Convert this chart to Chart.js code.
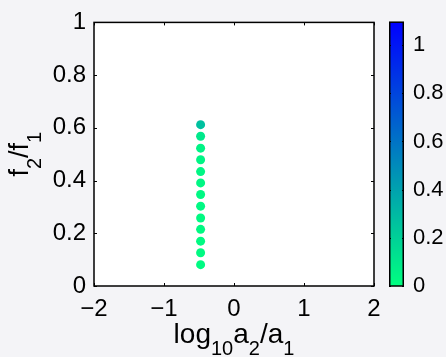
<!DOCTYPE html>
<html lang="en">
<head>
    <meta charset="UTF-8">
    <title>f2/f1 vs log10 a2/a1</title>
    <script src="https://cdn.jsdelivr.net/npm/chart.js"></script>
    <style>
        body { margin: 0; background-color: #f4f4f7; }
        #wrap { position: relative; width: 446px; height: 357px; }
        #mainChart { position: absolute; left: 0; top: 0; }
        #cbChart { position: absolute; left: 389px; top: 0; }
    </style>
</head>
<body>
    <div id="wrap">
        <canvas id="mainChart" width="446" height="357"></canvas>
        <canvas id="cbChart" width="57" height="357"></canvas>
    </div>

    <script>
        // data
        const xVals = [-0.477, -0.477, -0.477, -0.477, -0.477, -0.477, -0.477, -0.477, -0.477, -0.477, -0.477, -0.477, -0.477];
        const yVals = [0.612, 0.568, 0.523, 0.479, 0.434, 0.391, 0.347, 0.303, 0.258, 0.215, 0.170, 0.126, 0.081];
        const cVals = [0.27, 0.10, 0.05, 0.045, 0.04, 0.035, 0.03, 0.03, 0.025, 0.025, 0.02, 0.02, 0.02];
        const xTicks = [-2, -1, 0, 1, 2];
        const yTicks = [0, 0.2, 0.4, 0.6, 0.8, 1];
        const cbTicks = [0, 0.2, 0.4, 0.6, 0.8, 1];
        const cMax = 1.095;

        const FONT = '"Liberation Sans", Arial, sans-serif';

        // flipped "winter" colormap: green at 0, blue at top
        function cmap(v) {
            const f = Math.max(0, Math.min(1, v / cMax));
            return `rgb(0, ${Math.round(255 * (1 - f))}, ${Math.round(127.5 + 127.5 * f)})`;
        }

        // text with subscripts, centred on (0,0) baseline
        function richText(ctx, parts, size, subSize, subDrop) {
            let w = 0;
            parts.forEach(p => {
                ctx.font = `${p.sub ? subSize : size}px ${FONT}`;
                p.w = ctx.measureText(p.t).width;
                w += p.w;
            });
            let x = -w / 2;
            ctx.textAlign = 'left';
            ctx.textBaseline = 'alphabetic';
            parts.forEach(p => {
                ctx.font = `${p.sub ? subSize : size}px ${FONT}`;
                ctx.fillText(p.t, x, p.sub ? subDrop : 0);
                x += p.w;
            });
        }

        const matlabAxes = {
            id: 'matlabAxes',
            beforeDraw(chart) {
                const { ctx, chartArea: a } = chart;
                ctx.save();
                ctx.fillStyle = '#ffffff';
                ctx.fillRect(a.left, a.top, a.right - a.left, a.bottom - a.top);
                ctx.restore();
            },
            afterDraw(chart) {
                const { ctx, chartArea: a, scales } = chart;
                ctx.save();
                ctx.strokeStyle = '#000';
                ctx.lineWidth = 1;
                xTicks.forEach(v => {
                    const px = Math.round(scales.x.getPixelForValue(v)) + 0.5;
                    ctx.beginPath();
                    ctx.moveTo(px, a.bottom); ctx.lineTo(px, a.bottom - 3);
                    ctx.moveTo(px, a.top); ctx.lineTo(px, a.top + 3);
                    ctx.stroke();
                });
                yTicks.forEach(v => {
                    const py = Math.round(scales.y.getPixelForValue(v)) + 0.5;
                    ctx.beginPath();
                    ctx.moveTo(a.left, py); ctx.lineTo(a.left + 3, py);
                    ctx.moveTo(a.right, py); ctx.lineTo(a.right - 3, py);
                    ctx.stroke();
                });
                ctx.lineWidth = 1.5;
                ctx.strokeRect(a.left, a.top, a.right - a.left, a.bottom - a.top);

                ctx.fillStyle = '#000';
                // x title
                ctx.save();
                ctx.translate((a.left + a.right) / 2, 343);
                richText(ctx, [{ t: 'log' }, { t: '10', sub: true }, { t: 'a' }, { t: '2', sub: true }, { t: '/a' }, { t: '1', sub: true }], 28, 20, 12);
                ctx.restore();
                // y title
                ctx.save();
                ctx.translate(28, (a.top + a.bottom) / 2);
                ctx.rotate(-Math.PI / 2);
                richText(ctx, [{ t: 'f' }, { t: '2', sub: true }, { t: '/f' }, { t: '1', sub: true }], 27, 20, 13);
                ctx.restore();
                ctx.restore();
            }
        };

        new Chart(document.getElementById('mainChart'), {
            type: 'scatter',
            data: {
                datasets: [{
                    data: xVals.map((x, i) => ({ x: x, y: yVals[i] })),
                    backgroundColor: cVals.map(cmap),
                    borderWidth: 0,
                    pointRadius: 4.5
                }]
            },
            options: {
                responsive: false,
                animation: false,
                layout: { padding: { top: 16, right: 72, left: 0, bottom: 0 } },
                plugins: { legend: { display: false }, tooltip: { enabled: false } },
                scales: {
                    x: {
                        min: -2, max: 2,
                        afterFit: s => { s.height = 71; },
                        afterBuildTicks: s => { s.ticks = xTicks.map(v => ({ value: v })); },
                        grid: { display: false, drawTicks: false },
                        border: { display: false },
                        ticks: {
                            padding: 9,
                            color: '#000',
                            font: { family: FONT, size: 24 },
                            callback: v => String(v).replace('-', '\u2212')
                        }
                    },
                    y: {
                        min: 0, max: 1,
                        afterFit: s => { s.width = 94; },
                        afterBuildTicks: s => { s.ticks = yTicks.map(v => ({ value: v })); },
                        grid: { display: false, drawTicks: false },
                        border: { display: false },
                        ticks: {
                            padding: 8,
                            color: '#000',
                            font: { family: FONT, size: 24 },
                            callback: v => String(v)
                        }
                    }
                }
            },
            plugins: [matlabAxes]
        });

        const cbFrame = {
            id: 'cbFrame',
            afterDraw(chart) {
                const { ctx, chartArea: a, scales } = chart;
                ctx.save();
                ctx.strokeStyle = '#000';
                ctx.lineWidth = 1;
                cbTicks.forEach(v => {
                    const py = Math.round(scales.y.getPixelForValue(v)) + 0.5;
                    ctx.beginPath();
                    ctx.moveTo(a.left, py); ctx.lineTo(a.left + 2, py);
                    ctx.moveTo(a.right, py); ctx.lineTo(a.right - 2, py);
                    ctx.stroke();
                });
                ctx.lineWidth = 1.5;
                ctx.strokeRect(a.left + 0.75, a.top, a.right - a.left - 1.5, a.bottom - a.top);
                ctx.restore();
            }
        };

        new Chart(document.getElementById('cbChart'), {
            type: 'bar',
            data: {
                labels: [''],
                datasets: [{
                    data: [[0, cMax]],
                    barPercentage: 1,
                    categoryPercentage: 1,
                    borderWidth: 0,
                    backgroundColor: ctx => {
                        const a = ctx.chart.chartArea;
                        if (!a) return cmap(0);
                        const g = ctx.chart.ctx.createLinearGradient(0, a.bottom, 0, a.top);
                        g.addColorStop(0, cmap(0));
                        g.addColorStop(1, cmap(cMax));
                        return g;
                    }
                }]
            },
            options: {
                responsive: false,
                animation: false,
                layout: { padding: { top: 16, bottom: 71, left: 0, right: 0 } },
                plugins: { legend: { display: false }, tooltip: { enabled: false } },
                scales: {
                    x: { display: false },
                    y: {
                        position: 'right',
                        min: 0, max: cMax,
                        afterFit: s => { s.width = 42; },
                        afterBuildTicks: s => { s.ticks = cbTicks.map(v => ({ value: v })); },
                        grid: { display: false, drawTicks: false },
                        border: { display: false },
                        ticks: {
                            padding: 9,
                            color: '#000',
                            font: { family: FONT, size: 22 },
                            callback: v => String(v)
                        }
                    }
                }
            },
            plugins: [cbFrame]
        });
    </script>
</body>
</html>
